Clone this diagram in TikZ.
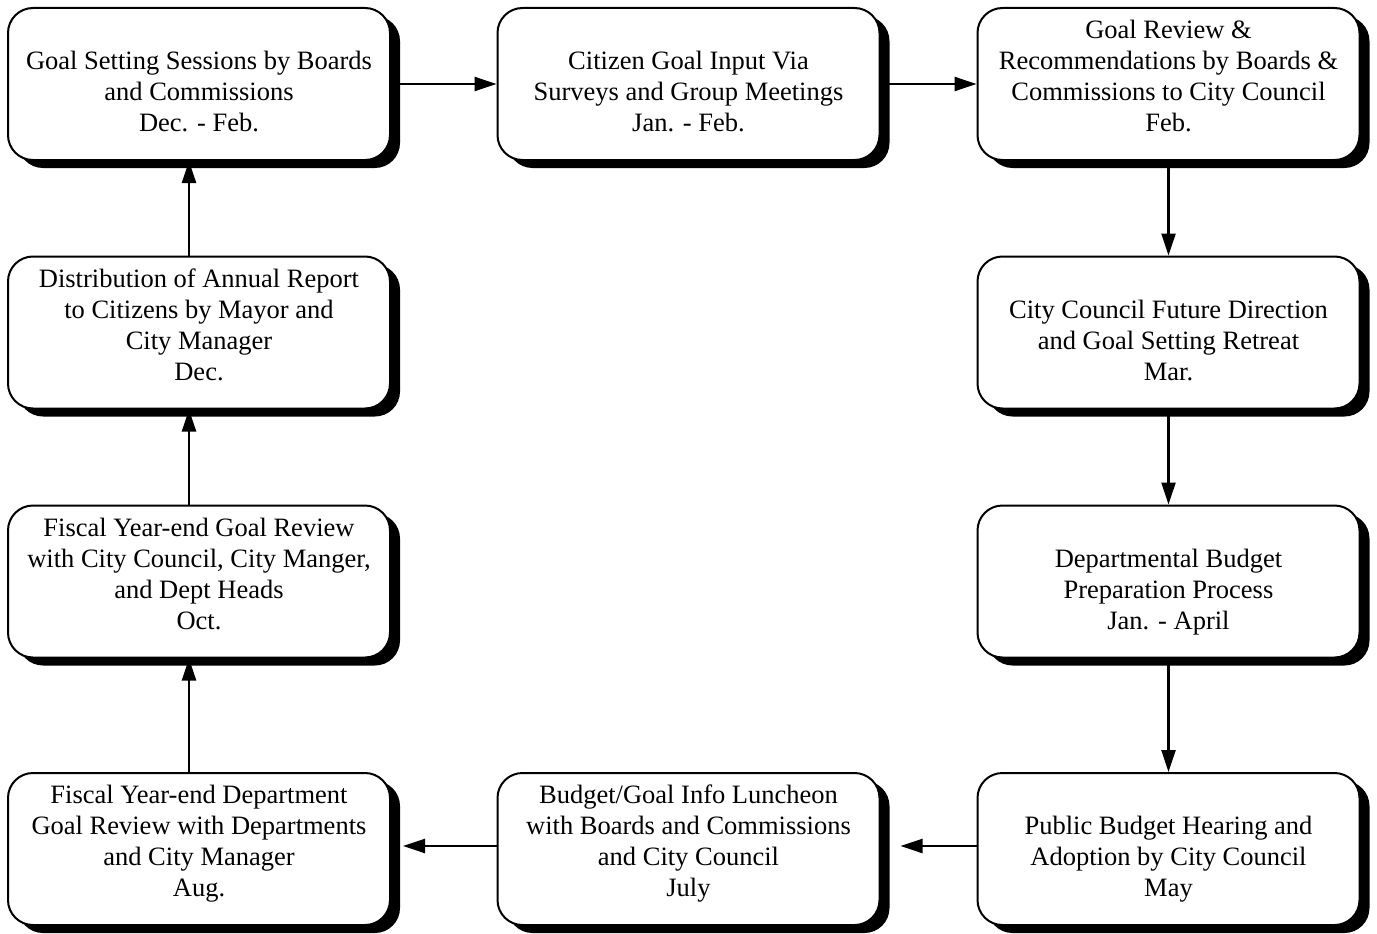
\documentclass[tikz,border=0pt]{standalone}
\usepackage{fontspec}
\setmainfont{Liberation Serif}
\usetikzlibrary{shapes, shadows, positioning, arrows.meta, calc}
\colorlet{drawColor}{black}
\colorlet{shadowColor}{black}
\tikzstyle{rect}=[rectangle, rounded corners=25pt, align=center,
  minimum width=382pt, minimum height=152pt, inner sep=0pt,
  line width=2pt, draw=drawColor, fill=white,
  font=\fontsize{26.5}{31}\selectfont,
  drop shadow={shadow xshift=10pt, shadow yshift=-8pt, fill=shadowColor, opacity=1}]
\tikzstyle{arrow}=[-{Triangle[length=22pt,width=14pt]}, line width=2.4pt, draw=black]
% text sits on the bottom lines of the box
\newcommand{\boxlines}[1]{\parbox[c][105pt][b]{376pt}{\centering #1\strut}}

\begin{document}
\begin{tikzpicture}[x=1pt, y=-1pt]
      \useasboundingbox (0,0) rectangle (1377,934);
      \node (goalSetting) [rect] at (199,84) {\boxlines{Goal Setting Sessions by Boards\\and Commissions\\Dec. - Feb.}};
      \node (citizenInput) [rect] at (688.5,84) {\boxlines{Citizen Goal Input Via\\Surveys and Group Meetings\\Jan. - Feb.}};
      \node (goalReview) [rect] at (1168.5,84) {\boxlines{Goal Review \&\\Recommendations by Boards \&\\Commissions to City Council\\Feb.}};
      \node (retreat) [rect] at (1168.5,332.5) {\boxlines{City Council Future Direction\\and Goal Setting Retreat\\Mar.}};
      \node (deptBudget) [rect] at (1168.5,581.5) {\boxlines{Departmental Budget\\Preparation Process\\Jan. - April}};
      \node (hearing) [rect] at (1168.5,849) {\boxlines{Public Budget Hearing and\\Adoption by City Council\\May}};
      \node (luncheon) [rect] at (688.5,849) {\boxlines{Budget/Goal Info Luncheon\\with Boards and Commissions\\and City Council\\July}};
      \node (deptReview) [rect] at (199,849) {\boxlines{Fiscal Year-end Department\\Goal Review with Departments\\and City Manager\\Aug.}};
      \node (councilReview) [rect] at (199,581.5) {\boxlines{Fiscal Year-end Goal Review\\with City Council, City Manger,\\and Dept Heads\\Oct.}};
      \node (annualReport) [rect] at (199,332.5) {\boxlines{Distribution of Annual Report\\to Citizens by Mayor and\\City Manager\\Dec.}};
      % across the top
      \draw [arrow] (goalSetting) -- (citizenInput);
      \draw [arrow] (citizenInput) -- (goalReview);
      % down the right side
      \draw [arrow] (goalReview) -- (retreat);
      \draw [arrow] (retreat) -- (deptBudget);
      \draw [arrow] (deptBudget) -- (hearing);
      % back along the bottom
      \draw [arrow] ($ (hearing.west) + (0,3pt) $) -- ($ (luncheon.east) + (20pt,3pt) $);
      \draw [arrow] ($ (luncheon.west) + (0,3pt) $) -- ($ (deptReview.east) + (12pt,3pt) $);
      % up the left side
      \draw [arrow] ($ (deptReview.north) + (-10pt,0) $) -- ($ (councilReview.south) + (-10pt,0) $);
      \draw [arrow] ($ (councilReview.north) + (-10pt,0) $) -- ($ (annualReport.south) + (-10pt,0) $);
      \draw [arrow] ($ (annualReport.north) + (-10pt,0) $) -- ($ (goalSetting.south) + (-10pt,0) $);
    \end{tikzpicture}
\end{document}
